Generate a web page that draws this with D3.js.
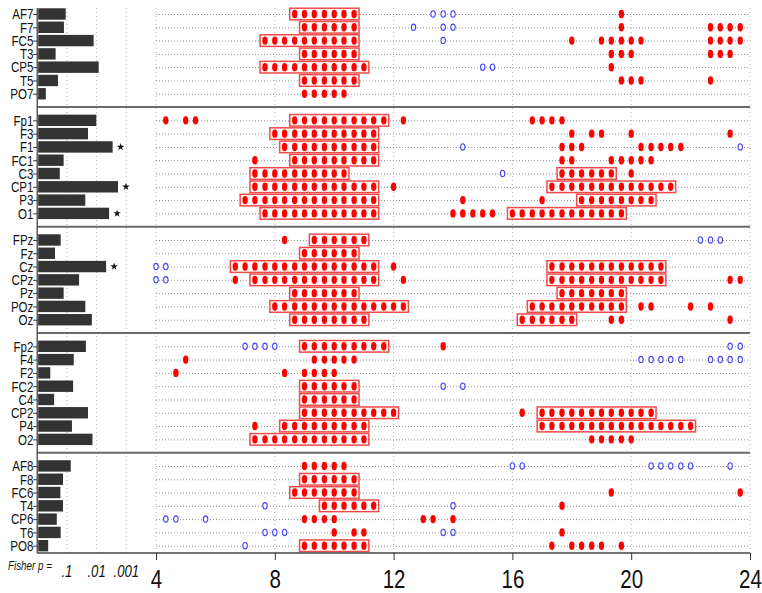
<!DOCTYPE html>
<html>
<head>
<meta charset="utf-8">
<script src="https://cdn.jsdelivr.net/npm/d3@7"></script>
<style>
  html, body { margin: 0; padding: 0; background: #fff; }
  svg { display: block; }
</style>
</head>
<body>
<svg id="chart" width="762" height="593"></svg>
<script>
// Electrode groups, top to bottom
const groups = [
  ["AF7", "F7", "FC5", "T3", "CP5", "T5", "PO7"],
  ["Fp1", "F3", "F1", "FC1", "C3", "CP1", "P3", "O1"],
  ["FPz", "Fz", "Cz", "CPz", "Pz", "POz", "Oz"],
  ["Fp2", "F4", "F2", "FC2", "C4", "CP2", "P4", "O2"],
  ["AF8", "F8", "FC6", "T4", "CP6", "T6", "PO8"]
];

// -log10 of the Fisher combined p value, one per electrode (flattened order)
const fisherLogP = [
  0.96, 0.90, 1.90, 0.62, 2.07, 0.70, 0.29,
  1.99, 1.71, 2.54, 0.89, 0.76, 2.72, 1.62, 2.42,
  0.79, 0.60, 2.32, 1.41, 0.89, 1.62, 1.84,
  1.64, 1.23, 0.44, 1.21, 0.57, 1.71, 1.17, 1.86,
  1.13, 0.87, 0.78, 0.87, 0.66, 0.79, 0.37
];
const starred = ["F1", "CP1", "O1", "Cz"];

// Frequencies (Hz) with a significant increase, one list per electrode
const redDots = [
  [8.67, 9, 9.33, 9.67, 10, 10.33, 10.67, 19.67],
  [9, 9.33, 9.67, 10, 10.33, 10.67, 19.67, 22.67, 23, 23.33, 23.67],
  [7.67, 8, 8.33, 8.67, 9, 9.33, 9.67, 10, 10.33, 10.67, 18, 19, 19.33, 19.67, 20, 20.33, 22.67, 23, 23.33, 23.67],
  [9, 9.33, 9.67, 10, 10.33, 10.67, 19.33, 19.67, 20, 22.67, 23, 23.33],
  [7.67, 8, 8.33, 8.67, 9, 9.33, 9.67, 10, 10.33, 10.67, 11, 19.33],
  [9, 9.33, 9.67, 10, 10.33, 10.67, 19.67, 20, 20.33, 22.67],
  [9, 9.33, 9.67, 10, 10.33],
  [4.33, 5, 5.33, 8.67, 9, 9.33, 9.67, 10, 10.33, 10.67, 11, 11.33, 11.67, 12.33, 16.67, 17, 17.33, 17.67],
  [8, 8.33, 8.67, 9, 9.33, 9.67, 10, 10.33, 10.67, 11, 11.33, 18, 18.67, 19, 20, 23.33],
  [8.33, 8.67, 9, 9.33, 9.67, 10, 10.33, 10.67, 11, 11.33, 17.67, 18, 18.33, 20.33, 20.67, 21, 21.33, 21.67],
  [7.33, 8.67, 9, 9.33, 9.67, 10, 10.33, 10.67, 11, 11.33, 17.67, 18, 19.33, 19.67, 20, 20.33, 20.67],
  [7.33, 7.67, 8, 8.33, 8.67, 9, 9.33, 9.67, 10, 10.33, 17.67, 18, 18.33, 18.67, 19, 19.33, 20],
  [7.33, 7.67, 8, 8.33, 8.67, 9, 9.33, 9.67, 10, 10.33, 10.67, 11, 11.33, 12, 17.33, 17.67, 18, 18.33, 18.67, 19, 19.33, 19.67, 20, 20.33, 20.67, 21, 21.33],
  [7, 7.33, 7.67, 8, 8.33, 8.67, 9, 9.33, 9.67, 10, 10.33, 10.67, 11, 11.33, 14.33, 17, 18.33, 18.67, 19, 19.33, 19.67, 20, 20.33, 20.67],
  [7.67, 8, 8.33, 8.67, 9, 9.33, 9.67, 10, 10.33, 10.67, 11, 11.33, 14, 14.33, 14.67, 15, 15.33, 16, 16.33, 16.67, 17, 17.33, 17.67, 18, 18.33, 18.67, 19, 19.33, 19.67],
  [8.33, 9.33, 9.67, 10, 10.33, 10.67, 11],
  [9, 9.33, 9.67, 10, 10.33, 10.67],
  [6.67, 7, 7.33, 7.67, 8, 8.33, 8.67, 9, 9.33, 9.67, 10, 10.33, 10.67, 11, 11.33, 12, 17.33, 17.67, 18, 18.33, 18.67, 19, 19.33, 19.67, 20, 20.33, 20.67, 21],
  [6.67, 7.33, 7.67, 8, 8.33, 8.67, 9, 9.33, 9.67, 10, 10.33, 10.67, 11, 11.33, 12.33, 17.33, 17.67, 18, 18.33, 18.67, 19, 19.33, 19.67, 20, 20.33, 20.67, 21, 23.33, 23.67],
  [8.67, 9, 9.33, 9.67, 10, 10.33, 10.67, 17.67, 18, 18.33, 18.67, 19, 19.33, 19.67],
  [8, 8.33, 8.67, 9, 9.33, 9.67, 10, 10.33, 10.67, 11, 11.33, 11.67, 12, 12.33, 16.67, 17, 17.33, 17.67, 18, 18.33, 18.67, 19, 19.33, 19.67, 20.33, 20.67, 22, 22.67],
  [8.67, 9, 9.33, 9.67, 10, 10.33, 10.67, 11, 16.33, 16.67, 17, 17.33, 17.67, 18, 19.33, 19.67, 23.33],
  [9, 9.33, 9.67, 10, 10.33, 10.67, 11, 11.33, 11.67, 13.67],
  [5, 9.33, 9.67, 10, 10.33, 10.67],
  [4.67, 8.33, 9, 9.33, 9.67, 10],
  [9, 9.33, 9.67, 10, 10.33, 10.67],
  [9, 9.33, 9.67, 10, 10.33, 10.67],
  [9, 9.33, 9.67, 10, 10.33, 10.67, 11, 11.33, 11.67, 12, 16.33, 17, 17.33, 17.67, 18, 18.33, 18.67, 19, 19.33, 19.67, 20, 20.33, 20.67],
  [7.33, 8.33, 8.67, 9, 9.33, 9.67, 10, 10.33, 10.67, 11, 17, 17.33, 17.67, 18, 18.33, 18.67, 19, 19.33, 19.67, 20, 20.33, 20.67, 21, 21.33, 21.67, 22],
  [7.33, 7.67, 8, 8.33, 8.67, 9, 9.33, 9.67, 10, 10.33, 10.67, 11, 18.67, 19, 19.33, 19.67, 20],
  [9, 9.33, 9.67, 10, 10.33],
  [9, 9.33, 9.67, 10, 10.33, 10.67],
  [8.67, 9, 9.33, 9.67, 10, 10.33, 10.67, 19.33, 23.67],
  [9.67, 10, 10.33, 10.67, 11, 11.33, 17.67],
  [9, 9.33, 9.67, 10, 13, 13.33, 14],
  [10, 10.67, 11, 17.67],
  [9, 9.33, 9.67, 10, 10.33, 10.67, 11, 17.33, 18, 18.33, 18.67, 19, 19.67]
];

// Frequencies (Hz) with a significant decrease
const blueDots = [
  [13.33, 13.67, 14], [12.67, 13.67, 14], [13.67], [], [15, 15.33], [], [],
  [], [], [14.33, 23.67], [], [15.67], [], [], [],
  [22.33, 22.67, 23], [], [4, 4.33], [4, 4.33], [], [], [],
  [7, 7.33, 7.67, 8, 23.33, 23.67], [20.33, 20.67, 21, 21.33, 21.67, 22.67, 23, 23.33, 23.67], [], [13.67, 14.33], [], [], [], [],
  [16, 16.33, 20.67, 21, 21.33, 21.67, 22, 23.33], [], [], [7.67, 14], [4.33, 4.67, 5.67], [7.67, 8, 8.33, 13.67, 14], [7]
];

// Contiguous frequency clusters [first, last] (Hz) that survive correction
const clusters = [
  [[8.67, 10.67]], [[9, 10.67]], [[7.67, 10.67]], [[9, 10.67]], [[7.67, 11]], [[9, 10.67]], [],
  [[8.67, 11.67]], [[8, 11.33]], [[8.33, 11.33]], [[8.67, 11.33]], [[7.33, 10.33], [17.67, 19.33]],
  [[7.33, 11.33], [17.33, 21.33]], [[7, 11.33], [18.33, 20.67]], [[7.67, 11.33], [16, 19.67]],
  [[9.33, 11]], [[9, 10.67]], [[6.67, 11.33], [17.33, 21]], [[7.33, 11.33], [17.33, 21]],
  [[8.67, 10.67], [17.67, 19.67]], [[8, 12.33], [16.67, 19.67]], [[8.67, 11], [16.33, 18]],
  [[9, 11.67]], [], [], [[9, 10.67]], [[9, 10.67]], [[9, 12], [17, 20.67]], [[8.33, 11], [17, 22]], [[7.33, 11]],
  [], [[9, 10.67]], [[8.67, 10.67]], [[9.67, 11.33]], [], [], [[9, 11]]
];

const freqTicks = [4, 8, 12, 16, 20, 24];
const pTickValues = [1, 2, 3];
const pTickLabels = [".1", ".01", ".001"];
const binHalf = 1 / 6;   // half of the 1/3 Hz frequency resolution

// ---- layout ----
const svg = d3.select("#chart");
const font = "'Liberation Sans', Arial, sans-serif";
const squeeze = "scale(0.82,1)";   // condensed look for the lettering
const squeezeNames = "scale(0.77,1)";

// one shared horizontal scale: 0..4 holds the -log10 p bars, 4..24 the frequencies
const x = d3.scaleLinear().domain([0, 24]).range([37.2, 750]);

// row slots: each group is followed by one empty slot
const rows = [];
let slot = 0;
groups.forEach((g, gi) => {
  g.forEach(name => { rows.push({ name, slot, group: gi }); slot++; });
  slot++;
});
rows.forEach((r, i) => {
  r.logp = fisherLogP[i];
  r.red = redDots[i];
  r.blue = blueDots[i];
  r.clusters = clusters[i];
});
const y = d3.scaleLinear().domain([0, 40]).range([14, 545.7]);
const yTop = 8, yBottom = y(40.55);
const separators = [];
{
  let s = 0;
  groups.slice(0, -1).forEach(g => { s += g.length; separators.push(s); s++; });
}

// vertical dotted grid
svg.append("g")
  .selectAll("line")
  .data(pTickValues.concat(freqTicks))
  .join("line")
  .attr("x1", d => x(d)).attr("x2", d => x(d))
  .attr("y1", yTop).attr("y2", yBottom)
  .attr("stroke", "#b4b4b4").attr("stroke-width", 1)
  .attr("stroke-dasharray", "1,3");

// dotted line along each electrode row (frequency part only)
svg.append("g")
  .selectAll("line")
  .data(rows)
  .join("line")
  .attr("x1", x(4)).attr("x2", x(24))
  .attr("y1", d => y(d.slot) + 0.5).attr("y2", d => y(d.slot) + 0.5)
  .attr("stroke", "#909090").attr("stroke-width", 1)
  .attr("stroke-dasharray", "1,2");

// group separators
svg.append("g")
  .selectAll("line")
  .data(separators)
  .join("line")
  .attr("x1", x(0)).attr("x2", x(24))
  .attr("y1", d => y(d)).attr("y2", d => y(d))
  .attr("stroke", "#6a6a6a").attr("stroke-width", 2);

// Fisher p bars
const barH = 11.4;
svg.append("g")
  .selectAll("rect")
  .data(rows)
  .join("rect")
  .attr("x", x(0) + 1)
  .attr("y", d => y(d.slot) - barH / 2)
  .attr("width", d => x(d.logp) - x(0) - 1)
  .attr("height", barH)
  .attr("fill", "#333");

// significance stars
svg.append("g")
  .selectAll("path")
  .data(rows.filter(r => starred.includes(r.name)))
  .join("path")
  .attr("d", d3.symbol(d3.symbolStar, 18))
  .attr("transform", d => `translate(${x(d.logp) + 8},${y(d.slot)})`)
  .attr("fill", "#111");

// cluster boxes
svg.append("g")
  .selectAll("rect")
  .data(rows.flatMap(r => r.clusters.map(c => ({ slot: r.slot, lo: c[0], hi: c[1] }))))
  .join("rect")
  .attr("x", d => x(d.lo - binHalf))
  .attr("y", d => y(d.slot) - 5.8)
  .attr("width", d => x(d.hi + binHalf) - x(d.lo - binHalf))
  .attr("height", 11.6)
  .attr("fill", "#fff")
  .attr("stroke", "#f24a4a")
  .attr("stroke-width", 1.5);

// increases: filled red
svg.append("g")
  .selectAll("ellipse")
  .data(rows.flatMap(r => r.red.map(f => ({ slot: r.slot, f }))))
  .join("ellipse")
  .attr("cx", d => x(d.f))
  .attr("cy", d => y(d.slot))
  .attr("rx", 2.7).attr("ry", 4.2)
  .attr("fill", "#f00");

// decreases: open blue
svg.append("g")
  .selectAll("ellipse")
  .data(rows.flatMap(r => r.blue.map(f => ({ slot: r.slot, f }))))
  .join("ellipse")
  .attr("cx", d => x(d.f))
  .attr("cy", d => y(d.slot))
  .attr("rx", 2.2).attr("ry", 3.2)
  .attr("fill", "#fff")
  .attr("stroke", "#4848f0")
  .attr("stroke-width", 1.1);

// left axis: electrode names
const yAxis = d3.axisLeft(y)
  .tickValues(rows.map(r => r.slot))
  .tickFormat(s => rows.find(r => r.slot === s).name)
  .tickSize(4)
  .tickPadding(1);
const gy = svg.append("g").attr("transform", `translate(${x(0)},0)`).call(yAxis);
gy.select(".domain").remove();
gy.selectAll(".tick line").attr("stroke", "#333");
gy.selectAll(".tick text")
  .attr("font-family", font)
  .attr("font-size", 15)
  .attr("fill", "#111")
  .attr("transform", squeezeNames);
svg.append("line")
  .attr("x1", x(0)).attr("x2", x(0))
  .attr("y1", yTop).attr("y2", yBottom)
  .attr("stroke", "#333").attr("stroke-width", 1.2);

// bottom axis: frequency
const xAxis = d3.axisBottom(x)
  .tickValues(freqTicks)
  .tickFormat(d3.format("d"))
  .tickSize(7)
  .tickPadding(10);
const gx = svg.append("g").attr("transform", `translate(0,${yBottom})`).call(xAxis);
gx.select(".domain").remove();
gx.selectAll(".tick line").attr("stroke", "#333");
gx.selectAll(".tick text")
  .attr("font-family", font)
  .attr("font-size", 25)
  .attr("fill", "#111")
  .attr("transform", squeeze);
svg.append("line")
  .attr("x1", x(0)).attr("x2", x(24))
  .attr("y1", yBottom).attr("y2", yBottom)
  .attr("stroke", "#444").attr("stroke-width", 1.5);

// Fisher p scale labels
svg.append("text")
  .attr("transform", `translate(8,570) ${squeeze}`)
  .attr("font-family", font).attr("font-style", "italic")
  .attr("font-size", 12).attr("fill", "#111")
  .text("Fisher p =");
svg.append("g")
  .selectAll("text")
  .data(pTickValues)
  .join("text")
  .attr("transform", d => `translate(${x(d)},577) ${squeeze}`)
  .attr("text-anchor", "middle")
  .attr("font-family", font).attr("font-style", "italic")
  .attr("font-size", 16).attr("fill", "#111")
  .text((d, i) => pTickLabels[i]);
</script>
</body>
</html>
